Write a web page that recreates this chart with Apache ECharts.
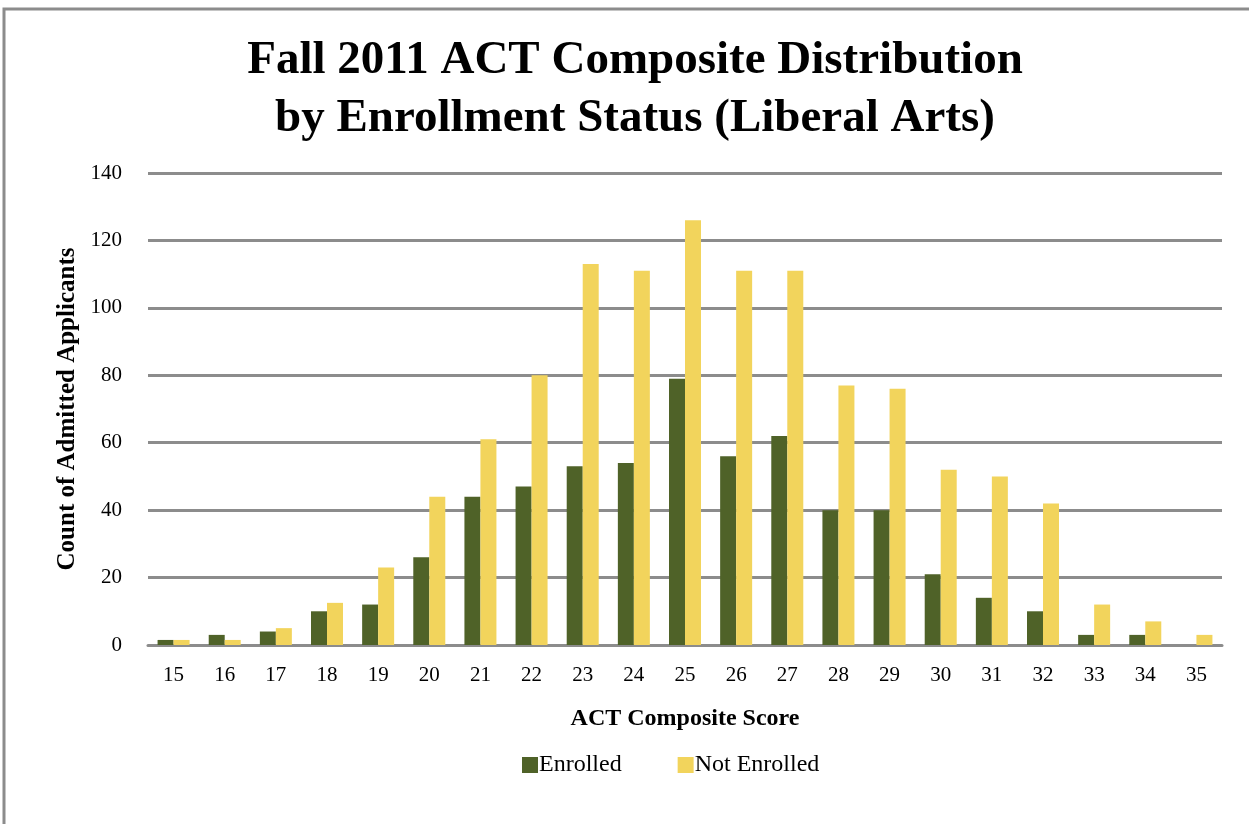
<!DOCTYPE html>
<html><head><meta charset="utf-8">
<script src="https://cdn.jsdelivr.net/npm/echarts@6/dist/echarts.min.js"></script>
<style>html,body{margin:0;padding:0;background:#fff}#c{width:1249px;height:824px}</style>
</head><body><div id="c"></div>
<script>
const categories = ['15','16','17','18','19','20','21','22','23','24','25','26','27','28','29','30','31','32','33','34','35'];
const enrolled = [1.5,3,4,10,12,26,44,47,53,54,79,56,62,40,40,21,14,10,3,3,0];
const notEnrolled = [1.5,1.5,5,12.5,23,44,61,80,113,111,126,111,111,77,76,52,50,42,12,7,3];
const yTicks = {min:0, max:140, interval:20};

const serif = '"Liberation Serif", "DejaVu Serif", serif';
const chart = echarts.init(document.getElementById('c'));
chart.setOption({
  animation:false,
  backgroundColor:'#fff',
  title:{
    text:'Fall 2011 ACT Composite Distribution\nby Enrollment Status (Liberal Arts)',
    left:630, top:27, textAlign:'center',
    textStyle:{fontFamily:serif, fontWeight:'bold', fontSize:47, lineHeight:58, color:'#000'}
  },
  graphic:[{type:'rect', shape:{x:4,y:9,width:1300,height:900}, style:{fill:'none', stroke:'#8c8c8c', lineWidth:3}, silent:true}],
  legend:{
    data:['Enrolled','Not Enrolled'], left:517, top:748, itemWidth:16, itemHeight:16, itemGap:56,
    icon:'rect',
    textStyle:{fontFamily:serif, fontSize:24, color:'#000', padding:[0,0,0,-4]}
  },
  grid:{left:148, right:27, top:173, bottom:179, containLabel:false},
  xAxis:{
    type:'category', data:categories,
    name:'ACT Composite Score', nameLocation:'middle', nameGap:62,
    nameTextStyle:{fontFamily:serif, fontWeight:'bold', fontSize:24, color:'#000'},
    axisLine:{lineStyle:{color:'#8c8c8c', width:3}},
    axisTick:{show:false},
    axisLabel:{fontFamily:serif, fontSize:21, color:'#000', margin:20}
  },
  yAxis:{
    type:'value', min:yTicks.min, max:yTicks.max, interval:yTicks.interval,
    name:'Count of Admitted Applicants', nameLocation:'middle', nameGap:67,
    nameTextStyle:{fontFamily:serif, fontWeight:'bold', fontSize:25, color:'#000'},
    axisLine:{show:false}, axisTick:{show:false},
    axisLabel:{fontFamily:serif, fontSize:21, color:'#000', margin:26},
    splitLine:{lineStyle:{color:'#8c8c8c', width:3}}
  },
  series:[
    {name:'Enrolled', type:'bar', data:enrolled, barWidth:16, barGap:'0%', itemStyle:{color:'#4f6228'}},
    {name:'Not Enrolled', type:'bar', data:notEnrolled, barWidth:16, itemStyle:{color:'#f2d45c'}}
  ]
});
</script></body></html>
